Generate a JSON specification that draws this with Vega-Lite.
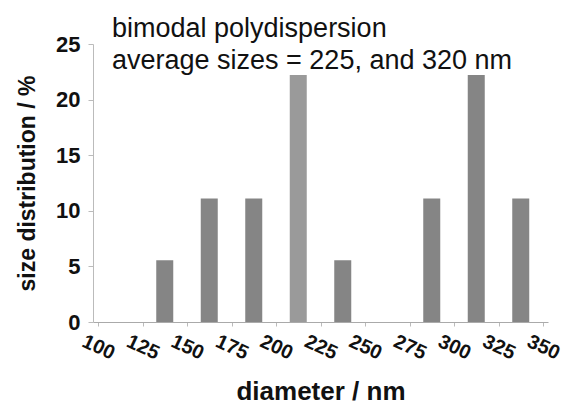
{
  "$schema": "https://vega.github.io/schema/vega-lite/v6.json",
  "width": 455,
  "height": 278,
  "autosize": {"type": "none"},
  "padding": {"left": 93, "top": 44, "right": 19, "bottom": 85},
  "background": "white",
  "config": {"view": {"stroke": null}, "font": "Liberation Sans"},
  "title": {
    "text": ["bimodal polydispersion", "average sizes = 225, and 320 nm"],
    "anchor": "start",
    "frame": "group",
    "dx": 19,
    "offset": -42,
    "font": "Liberation Sans",
    "fontSize": 27,
    "fontWeight": "normal",
    "color": "#111",
    "lineHeight": 32
  },
  "data": {
    "values": [
      {"diameter": 137.5, "pct": 5.56, "kind": "a"},
      {"diameter": 162.5, "pct": 11.11, "kind": "a"},
      {"diameter": 187.5, "pct": 11.11, "kind": "a"},
      {"diameter": 212.5, "pct": 22.22, "kind": "b"},
      {"diameter": 237.5, "pct": 5.56, "kind": "a"},
      {"diameter": 287.5, "pct": 11.11, "kind": "a"},
      {"diameter": 312.5, "pct": 22.22, "kind": "a"},
      {"diameter": 337.5, "pct": 11.11, "kind": "a"}
    ]
  },
  "mark": {"type": "bar", "size": 17},
  "encoding": {
    "x": {
      "field": "diameter",
      "type": "quantitative",
      "scale": {"domain": [100, 350], "nice": false, "zero": false},
      "axis": {
        "values": [100, 125, 150, 175, 200, 225, 250, 275, 300, 325, 350],
        "title": "diameter / nm",
        "titleFont": "Liberation Sans",
        "titleFontSize": 26,
        "titleFontWeight": "bold",
        "titleColor": "#111",
        "titlePadding": 15,
        "labelAngle": 25,
        "labelAlign": "center",
        "labelBaseline": "middle",
        "labelPadding": 21,
        "labelFont": "Liberation Sans",
        "labelFontSize": 20,
        "labelFontWeight": "bold",
        "labelColor": "#111",
        "grid": false,
        "domainColor": "#aaa",
        "tickColor": "#bbb",
        "tickSize": 4
      }
    },
    "y": {
      "field": "pct",
      "type": "quantitative",
      "scale": {"domain": [0, 25], "nice": false},
      "axis": {
        "values": [0, 5, 10, 15, 20, 25],
        "title": "size distribution / %",
        "titleFont": "Liberation Sans",
        "titleFontSize": 23,
        "titleFontWeight": "bold",
        "titleColor": "#111",
        "titlePadding": 16,
        "labelFont": "Liberation Sans",
        "labelFontSize": 22,
        "labelFontWeight": "bold",
        "labelColor": "#111",
        "labelPadding": 8,
        "grid": false,
        "domainColor": "#bbb",
        "tickColor": "#bbb",
        "tickSize": 5
      }
    },
    "color": {
      "field": "kind",
      "type": "nominal",
      "scale": {"domain": ["a", "b"], "range": ["#858585", "#9a9a9a"]},
      "legend": null
    }
  }
}
